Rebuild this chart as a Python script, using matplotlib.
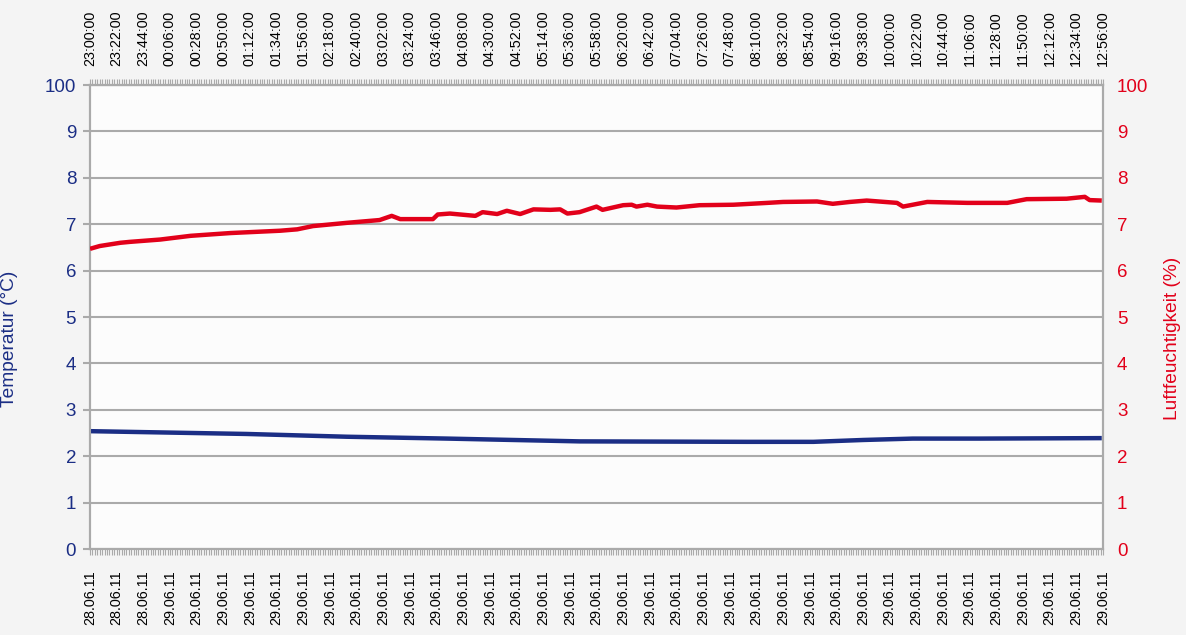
import matplotlib
matplotlib.use("Agg")
import matplotlib.pyplot as plt
import matplotlib.dates as mdates
from matplotlib import font_manager
import pandas as pd

# ----- data
start = pd.Timestamp("2011-06-28 23:00")
end = pd.Timestamp("2011-06-29 12:56")

# minutes after start / relative humidity (right axis)
hum_min = [0, 8, 25, 33, 58, 83, 116, 157, 171, 184, 212, 239, 249, 256, 283, 287,
           297, 318, 324, 336, 344, 355, 366, 380, 388, 394, 404, 418, 423, 440,
           447, 451, 460, 468, 484, 503, 531, 559, 572, 600, 613, 627, 641, 666,
           671, 679, 691, 724, 757, 773, 806, 821, 825, 835]
hum_val = [6.47, 6.53, 6.60, 6.62, 6.67, 6.75, 6.81, 6.86, 6.89, 6.96, 7.03, 7.09,
           7.18, 7.11, 7.11, 7.21, 7.23, 7.18, 7.26, 7.22, 7.29, 7.22, 7.32, 7.31,
           7.32, 7.23, 7.26, 7.38, 7.31, 7.41, 7.42, 7.38, 7.42, 7.38, 7.36, 7.41,
           7.42, 7.46, 7.48, 7.49, 7.44, 7.48, 7.51, 7.46, 7.38, 7.42, 7.48, 7.46,
           7.46, 7.54, 7.55, 7.59, 7.52, 7.51]

# minutes after start / temperature (left axis)
temp_min = [0, 129, 212, 295, 404, 542, 597, 638, 679, 734, 835]
temp_val = [2.54, 2.48, 2.42, 2.38, 2.32, 2.31, 2.31, 2.35, 2.38, 2.38, 2.39]

ytick_labels = ["0", "1", "2", "3", "4", "5", "6", "7", "8", "9", "100"]

BLUE = "#1b2e85"
RED = "#e2001a"
GRID = "#aaaaaa"

# the original uses a condensed face; fall back to smaller Arial-like text
installed = {f.name for f in font_manager.fontManager.ttflist}
if "Liberation Sans Narrow" in installed:
    FONT, k = "Liberation Sans Narrow", 1.0
else:
    FONT, k = "Liberation Sans", 0.82
plt.rcParams["font.family"] = [FONT, "DejaVu Sans"]
XSIZE, YSIZE, LSIZE = 12.6 * k, 16.5 * k, 16.8 * k

hum_t = start + pd.to_timedelta(hum_min, unit="min")
temp_t = start + pd.to_timedelta(temp_min, unit="min")
major = pd.date_range(start, end, freq="22min")
minor = pd.date_range(start, end, freq="2min")

fig = plt.figure(figsize=(11.86, 6.35), dpi=100)
fig.patch.set_facecolor("#f4f4f4")
ax = fig.add_axes([0.0759, 0.1354, 0.8541, 0.7307])
ax.set_facecolor("#fcfcfc")
ax2 = ax.twinx()

ax.plot(temp_t, temp_val, color=BLUE, lw=3.2, solid_capstyle="butt", zorder=3)
ax2.plot(hum_t, hum_val, color=RED, lw=3.2, solid_capstyle="butt", zorder=3)

for a in (ax, ax2):
    a.set_ylim(0, 10)
    a.set_xlim(start, end)
    a.set_yticks(range(11))
    a.set_yticklabels(ytick_labels)
    for s in a.spines.values():
        s.set_color(GRID)
        s.set_linewidth(1.5)

ax.yaxis.grid(True, color=GRID, lw=1.5)
ax.set_axisbelow(True)
ax.tick_params(axis="y", colors=GRID, length=5, width=1.5, pad=5,
               labelcolor=BLUE, labelsize=YSIZE)
ax2.tick_params(axis="y", length=0, pad=10, labelcolor=RED, labelsize=YSIZE)

# bottom: dates, top: clock times
ax.set_xticks(major)
ax.set_xticks(minor, minor=True)
ax.xaxis.set_major_formatter(mdates.DateFormatter("%d.%m.%y"))
ax.tick_params(axis="x", which="both", length=4, width=0.8, colors=GRID,
               labelcolor="black", labelsize=XSIZE, labelrotation=90, pad=11)

top = ax.secondary_xaxis("top")
top.set_xticks(major)
top.set_xticks(minor, minor=True)
top.xaxis.set_major_formatter(mdates.DateFormatter("%H:%M:%S"))
top.tick_params(axis="x", which="both", length=4, width=0.8, colors=GRID,
                labelcolor="black", labelsize=XSIZE, labelrotation=90, pad=10)
top.spines["top"].set_color(GRID)
top.spines["top"].set_linewidth(1.5)

ax.set_ylabel("Temperatur (°C)", color=BLUE, fontsize=LSIZE)
ax.yaxis.set_label_coords(-0.071, 0.453)
ax2.set_ylabel("Luftfeuchtigkeit (%)", color=RED, fontsize=LSIZE, rotation=90)
ax2.yaxis.set_label_coords(1.060, 0.455)

fig.savefig("out.png", dpi=100, facecolor=fig.get_facecolor())
